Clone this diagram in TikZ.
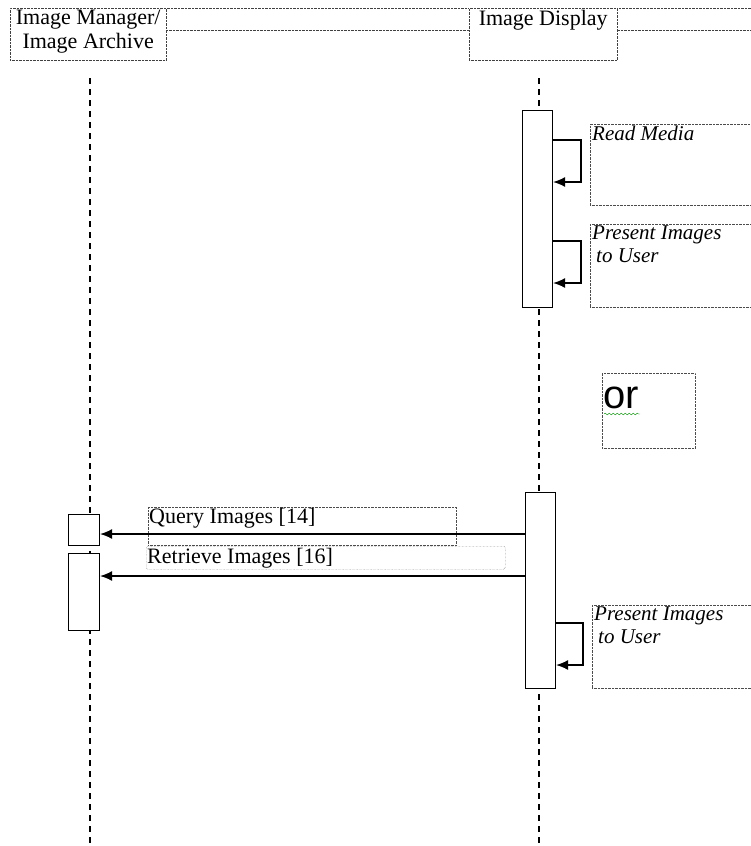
\documentclass[tikz,border=0pt]{standalone}
\usepackage{fontspec}
\setmainfont{Liberation Serif}
\newfontfamily\orfont{Liberation Sans}
\usetikzlibrary{arrows.meta,positioning,decorations.pathmorphing}
\tikzset{
  head/.style={
    draw=black!75,
    densely dotted,
    fill=white,
    anchor=north west,
    inner sep=0pt
  },
  headtext/.style={
    anchor=north,
    align=center,
    inner sep=2pt,
    font=\fontsize{22}{24}\selectfont
  },
  note/.style={draw=black!70, densely dotted, anchor=north west, inner sep=0pt},
  notetext/.style={
    anchor=north west,
    align=left,
    inner sep=2pt,
    font=\fontsize{21}{23}\selectfont\itshape
  },
  msgtext/.style={anchor=north west, inner sep=1pt, font=\fontsize{22}{24}\selectfont},
  act/.style={draw, line width=1.1pt, fill=white, anchor=north west, inner sep=0pt},
  life/.style={line width=1.2pt, dash pattern=on 6pt off 5pt},
  msg/.style={-{Latex[length=12pt,width=10pt]}, line width=1.4pt}
}

\begin{document}
\begin{tikzpicture}[x=1pt, y=-1pt]
  \useasboundingbox (0,0) rectangle (751,846);
  % header strip and lifeline heads
  \draw[black!75, densely dotted] (10,8) rectangle (770,30);
  \node[head, minimum width=156pt, minimum height=52pt] (mgr) at (10,8) {};
  \node[headtext] (mgrtxt) at (mgr.north) {Image Manager/\\Image Archive};
  \node[head, minimum width=148pt, minimum height=52pt] (disp) at (469,8) {};
  \node[headtext] (disptxt) at (disp.north) {Image Display};

  % lifelines
  \coordinate (l1top) at (90,78);
  \coordinate (l1bot) at (90,846);
  \coordinate (l2top) at (539,78);
  \coordinate (l2bot) at (539,846);
  \draw[life] (l1top) -- (l1bot);
  \draw[life] (l2top) -- (l2bot);

  % first variant: local media
  \node[act, minimum width=30pt, minimum height=197pt] (act1) at (522,110) {};
  \node[note, minimum width=175pt, minimum height=81pt] (readn) at (590,124) {};
  \node[notetext] (readt) at (readn.north west) {Read Media};
  \node[note, minimum width=175pt, minimum height=83pt] (pres1n) at (590,224) {};
  \node[notetext] (pres1t) at (pres1n.north west) {Present Images\\\hspace*{4pt}to User};
  \draw[msg] (act1.north east) ++(0,30) -- ++(28,0) -- ++(0,42) -- ++(-28,0);
  \draw[msg] (act1.north east) ++(0,131) -- ++(28,0) -- ++(0,42) -- ++(-28,0);

  % or
  \node[note, minimum width=93pt, minimum height=75pt] (orbox) at (602,373) {};
  \node[anchor=base west, inner sep=0pt, font=\orfont\fontsize{40}{44}\selectfont] (ortxt) at (603,408) {or};
  \draw[green!55!black, decorate, decoration={snake, amplitude=0.9pt, segment length=4pt}]
    (ortxt.base west) ++(1,6) -- ++(36,0);

  % second variant: query the archive
  \node[act, minimum width=30pt, minimum height=196pt] (act2) at (525,492) {};
  \node[act, minimum width=31pt, minimum height=31pt] (qbox) at (68,514) {};
  \node[act, minimum width=31pt, minimum height=77pt] (rbox) at (68,553) {};
  \node[note, minimum width=308pt, minimum height=38pt] (qn) at (148,507) {};
  \node[msgtext] (qt) at (qn.north west) {Query Images [14]};
  \node[note, rounded corners=2pt, minimum width=359pt, minimum height=23pt] (rn) at (146,546) {};
  \node[msgtext] (rt) at ([yshift=-1pt]rn.north west) {Retrieve Images [16]};
  \draw[msg] (act2.west |- 0,534) -- (qbox.east |- 0,534);
  \draw[msg] (act2.west |- 0,576) -- (rbox.east |- 0,576);
  \node[note, minimum width=175pt, minimum height=83pt] (pres2n) at (592,605) {};
  \node[notetext] (pres2t) at (pres2n.north west) {Present Images\\\hspace*{4pt}to User};
  \draw[msg] (act2.north east) ++(0,131) -- ++(27,0) -- ++(0,42) -- ++(-27,0);
\end{tikzpicture}
\end{document}
